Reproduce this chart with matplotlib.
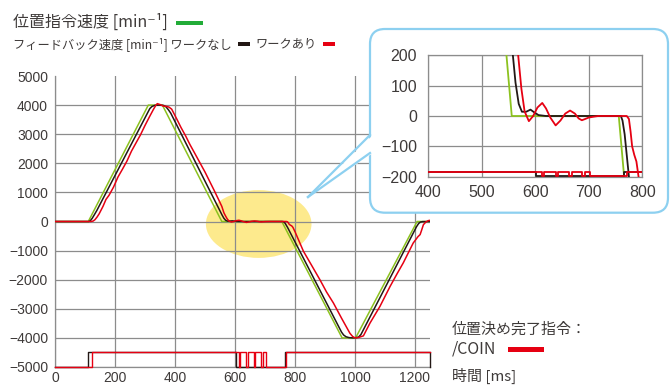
import matplotlib
matplotlib.use('Agg')
import matplotlib.pyplot as plt
from matplotlib.patches import Ellipse, FancyBboxPatch, Polygon, Rectangle
from matplotlib.lines import Line2D
from matplotlib.transforms import IdentityTransform

# 位置指令速度 (台形)
cmd_t = [0, 111, 311, 358, 556, 756, 957, 1002, 1207, 1250]
cmd_v = [0, 0, 4000, 4000, 0, 0, -4000, -4000, 0, 0]

# フィードバック速度 ワークなし
fb_t = [0, 113, 118, 124, 131, 140, 316, 323, 332, 345, 362, 370, 378, 386,
        557, 563, 569, 575, 583, 591, 598, 606, 620,
        760, 763, 767, 771, 775, 955, 962, 970, 980, 992, 1005, 1012, 1020,
        1205, 1212, 1218, 1225, 1250]
fb_v = [0, 0, 30, 110, 230, 390, 3880, 3950, 3990, 4000, 3990, 3940, 3840, 3720,
        220, 110, 40, 14, 14, 21, 12, 3, 0,
        0, -15, -60, -130, -200, -3800, -3900, -3960, -3990, -4000, -3990, -3970, -3880,
        -180, -70, -20, -5, 0]

# フィードバック速度 ワークあり
fbw_t = [0, 120, 127, 133, 140, 147, 160, 170, 180, 195, 210, 225, 240, 255, 270,
         285, 300, 315, 328, 336, 341, 350, 360, 372, 380, 389, 396, 406, 420, 435,
         450, 465, 483, 500, 515, 530, 545, 556, 563, 568, 574, 580, 588, 596, 604,
         613, 620, 628, 638, 647, 656, 665, 674, 681, 687, 693, 700, 710, 718,
         771, 775, 778, 781, 785, 789, 793, 800, 828, 855, 883, 905, 928, 955, 983,
         992, 1000, 1010, 1028, 1050, 1083, 1117, 1140, 1161, 1194, 1210, 1217,
         1222, 1228, 1236, 1244, 1250]
fbw_v = [0, 0, 15, 60, 150, 260, 520, 760, 900, 1180, 1530, 1800, 2080, 2420, 2700,
         2980, 3300, 3600, 3850, 3990, 4050, 4020, 3970, 3955, 3930, 3860, 3720, 3520,
         3230, 2950, 2640, 2360, 2020, 1700, 1390, 1080, 760, 520, 300, 200, 90, 15,
         -17, 0, 28, 43, 25, -5, -31, -15, 8, 18, 8, -8, -14, -10, -5, -2, 0,
         0, -10, -50, -100, -128, -150, -200, -350, -1020, -1500, -2000, -2420, -2800,
         -3320, -3840, -3950, -4000, -3990, -3930, -3490, -2920, -2230, -1800, -1420,
         -740, -520, -450, -300, -110, -20, 30, 40]

# 位置決め完了指令 /COIN (1: ON)
coin_fb_t = [0, 110, 602, 766, 1250]
coin_fb_s = [0, 1, 0, 1, 0]
coin_w_t = [0, 122, 612, 617, 638, 643, 663, 668, 688, 693, 702, 771, 1250]
coin_w_s = [0, 1, 0, 1, 0, 1, 0, 1, 0, 1, 0, 1, 1]

x_ticks = [0, 200, 400, 600, 800, 1000, 1200]
y_ticks = [-5000, -4000, -3000, -2000, -1000, 0, 1000, 2000, 3000, 4000, 5000]
zoom_x_ticks = [400, 500, 600, 700, 800]
zoom_y_ticks = [-200, -100, 0, 100, 200]

GREEN = '#8cc21f'
BLACK = '#231815'
RED = '#e60012'
GRID = '#8c8c8c'
TXT = '#3e3a39'
BLUE = '#8dd0f0'
JP = ['Noto Sans CJK JP', 'DejaVu Sans']
NUM = 'Liberation Sans'

W, H = 670, 385


def fx(x):
    return x / W


def fy(y):
    return 1 - y / H


def px(x, y):
    # 画像座標 (左上原点) -> ディスプレイ座標
    return (x, H - y)


fig = plt.figure(figsize=(W / 100, H / 100), dpi=100)

# メイングラフ
ax = fig.add_axes([fx(55), fy(367), (430 - 55) / W, (367 - 76) / H])
ax.set_xlim(0, 1250)
ax.set_ylim(-5000, 5000)
ax.set_xticks(x_ticks)
ax.set_yticks(y_ticks)
ax.set_axisbelow(True)
ax.grid(True, color=GRID, lw=0.9)
ax.get_ygridlines()[-1].set_visible(False)
for s in ['top', 'right']:
    ax.spines[s].set_visible(False)
for s in ['left', 'bottom']:
    ax.spines[s].set_color(GRID)
    ax.spines[s].set_linewidth(0.9)
ax.tick_params(length=0, labelsize=10, colors=TXT)
ax.tick_params(axis='y', pad=5)
ax.tick_params(axis='x', pad=3)
for lab in ax.get_xticklabels() + ax.get_yticklabels():
    lab.set_fontfamily(NUM)

ax.add_patch(Ellipse((679, -86), 352, 2330, facecolor='#fdea8d', edgecolor='none', zorder=0.2))

ax.plot(cmd_t, cmd_v, color=GREEN, lw=1.1, zorder=3)
ax.plot(fb_t, fb_v, color=BLACK, lw=1.1, zorder=4)
ax.plot(fbw_t, fbw_v, color=RED, lw=1.1, zorder=5)

coin_lo, coin_hi = -5000, -4500
ax.plot(coin_fb_t, [coin_lo + (coin_hi - coin_lo) * s for s in coin_fb_s],
        drawstyle='steps-post', color=BLACK, lw=1.0, zorder=4, clip_on=False)
ax.plot(coin_w_t, [coin_lo + (coin_hi - coin_lo) * s for s in coin_w_s],
        drawstyle='steps-post', color=RED, lw=1.0, zorder=5, clip_on=False)

# 拡大図の吹き出し
box = FancyBboxPatch(px(370, 212.7), 298, 183.7, boxstyle='round,pad=0,rounding_size=15',
                     transform=IdentityTransform(), facecolor='white', edgecolor=BLUE,
                     lw=1.6, zorder=1)
fig.add_artist(box)
tail = Polygon([px(373, 135), px(308, 197), px(373, 153)], closed=True,
               transform=IdentityTransform(), facecolor='white', edgecolor='none', zorder=1.1)
fig.add_artist(tail)
for y0 in (135, 153):
    fig.add_artist(Line2D([370, 308], [H - y0, H - 197], transform=IdentityTransform(),
                          color=BLUE, lw=1.6, zorder=1.2))

ax2 = fig.add_axes([fx(428.3), fy(176.7), (642.3 - 428.3) / W, (176.7 - 55.3) / H], zorder=2)
ax2.patch.set_alpha(0)
ax2.set_xlim(400, 800)
ax2.set_ylim(-200, 200)
ax2.set_xticks(zoom_x_ticks)
ax2.set_yticks(zoom_y_ticks)
ax2.grid(True, color=GRID, lw=0.9)
for s in ax2.spines.values():
    s.set_color(GRID)
    s.set_linewidth(0.9)
ax2.tick_params(length=0, labelsize=11.5, colors=TXT)
ax2.tick_params(axis='y', pad=8)
ax2.tick_params(axis='x', pad=6)
for lab in ax2.get_xticklabels() + ax2.get_yticklabels():
    lab.set_fontfamily(NUM)

ax2.plot(cmd_t, cmd_v, color=GREEN, lw=1.3, zorder=3)
ax2.plot(fb_t, fb_v, color=BLACK, lw=1.3, zorder=4)
ax2.plot(fbw_t, fbw_v, color=RED, lw=1.3, zorder=5)
z_lo, z_hi = -199, -185
ax2.plot(coin_fb_t, [z_lo + (z_hi - z_lo) * s for s in coin_fb_s],
         drawstyle='steps-post', color=BLACK, lw=1.3, zorder=4)
ax2.plot(coin_w_t, [z_lo + (z_hi - z_lo) * s for s in coin_w_s],
         drawstyle='steps-post', color=RED, lw=1.3, zorder=5)

# 凡例
fig.text(fx(13), fy(22.5), '位置指令速度 [min⁻¹]', family=JP, size=11.5, color=TXT, va='center')
fig.add_artist(Rectangle((fx(176), fy(24.5)), (203 - 176) / W, 4 / H,
                         transform=fig.transFigure, color='#22ac38', lw=0))
fig.text(fx(13), fy(44), 'フィードバック速度 [min⁻¹] ワークなし', family=JP, size=8.8,
         color=TXT, va='center')
fig.add_artist(Rectangle((fx(238), fy(45.7)), 12 / W, 3.5 / H,
                         transform=fig.transFigure, color=BLACK, lw=0))
fig.text(fx(255), fy(44), 'ワークあり', family=JP, size=8.8, color=TXT, va='center')
fig.add_artist(Rectangle((fx(322.7), fy(45.7)), 12.3 / W, 3.5 / H,
                         transform=fig.transFigure, color=RED, lw=0))

fig.text(fx(451.7), fy(329.3), '位置決め完了指令：', family=JP, size=10.8, color=TXT, va='center')
fig.text(fx(451.7), fy(349.3), '/COIN', family=JP, size=11.5, color=TXT, va='center')
fig.add_artist(Rectangle((fx(508), fy(351.7)), 36 / W, 4.7 / H,
                         transform=fig.transFigure, color=RED, lw=0))
fig.text(fx(451.7), fy(375.5), '時間 [ms]', family=JP, size=10.8, color=TXT, va='center')

fig.savefig('out.png', dpi=100)
